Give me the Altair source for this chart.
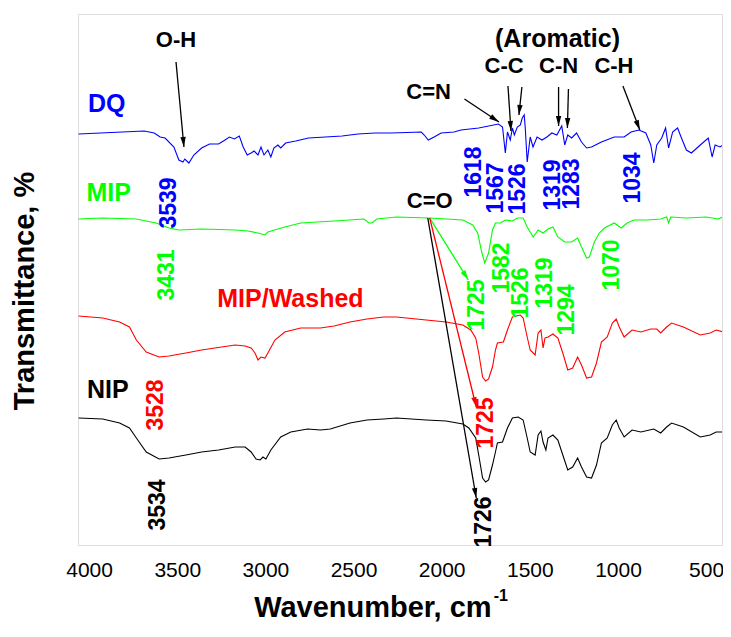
import math
import altair as alt
import pandas as pd

# ---- spectra: (wavenumber cm-1, relative transmittance, offset stacked) ----
dq = [(4060, 411), (3687, 414), (3631, 412), (3597, 408), (3569, 407), (3519, 398), (3491, 385),
      (3468, 383), (3457, 386), (3434, 382), (3406, 390), (3362, 397), (3317, 401), (3266, 401),
      (3238, 404), (3204, 408), (3176, 406), (3148, 409), (3126, 398), (3103, 390), (3081, 392),
      (3064, 394), (3042, 390), (3025, 398), (3008, 390), (2986, 395), (2969, 388), (2952, 397),
      (2929, 400), (2913, 397), (2885, 402), (2828, 404), (2755, 407), (2660, 408), (2565, 409),
      (2475, 411), (2379, 412), (2284, 412), (2116, 413), (2099, 410), (2076, 405), (2043, 408),
      (2003, 412), (1930, 413), (1891, 415), (1790, 417), (1678, 421), (1655, 418), (1639, 392),
      (1627, 413), (1611, 405), (1599, 417), (1588, 410), (1571, 418), (1554, 420), (1543, 427),
      (1532, 430), (1526, 417), (1515, 383), (1498, 408), (1482, 398), (1459, 408), (1431, 405),
      (1403, 408), (1375, 412), (1347, 410), (1319, 419), (1302, 400), (1285, 410), (1263, 407),
      (1235, 412), (1207, 403), (1178, 397), (1150, 398), (1094, 403), (1021, 408), (965, 408),
      (926, 413), (881, 415), (842, 412), (814, 400), (797, 382), (780, 400), (752, 407),
      (730, 417), (713, 397), (690, 413), (662, 417), (640, 407), (612, 395), (584, 392),
      (533, 400), (488, 407), (466, 388), (449, 400), (421, 398), (404, 400)]

mip = [(4060, 326), (3923, 327), (3732, 326), (3620, 322), (3547, 317), (3491, 315), (3362, 316),
       (3171, 315), (3098, 314), (3042, 312), (3002, 310), (2986, 313), (2890, 318), (2800, 322),
       (2610, 324), (2441, 326), (2413, 322), (2396, 322), (2368, 326), (2256, 328), (2071, 327),
       (1880, 325), (1824, 320), (1796, 312), (1773, 293), (1756, 282), (1734, 292), (1712, 315),
       (1695, 322), (1667, 322), (1639, 325), (1599, 324), (1571, 327), (1538, 327), (1515, 318),
       (1481, 308), (1453, 315), (1425, 312), (1397, 316), (1369, 318), (1341, 308), (1302, 303),
       (1263, 303), (1229, 307), (1207, 298), (1178, 287), (1162, 288), (1134, 303), (1106, 312),
       (1077, 317), (1021, 322), (982, 317), (948, 322), (909, 325), (836, 325), (758, 326),
       (724, 328), (713, 322), (701, 328), (612, 327), (499, 328), (432, 326), (404, 328)]

washed = [(4060, 229), (3923, 227), (3827, 223), (3771, 218), (3732, 205), (3676, 193), (3603, 188),
          (3547, 189), (3451, 192), (3362, 195), (3249, 198), (3171, 200), (3115, 199), (3081, 197),
          (3059, 192), (3042, 185), (3025, 188), (3002, 187), (2986, 192), (2946, 205), (2890, 213),
          (2800, 217), (2688, 217), (2610, 219), (2520, 223), (2424, 226), (2329, 228), (2256, 228),
          (2088, 225), (1975, 223), (1880, 220), (1835, 215), (1807, 207), (1790, 192), (1768, 168),
          (1751, 164), (1734, 166), (1712, 178), (1695, 195), (1684, 202), (1650, 203), (1627, 215),
          (1599, 228), (1554, 230), (1538, 227), (1515, 208), (1498, 195), (1470, 190), (1453, 212),
          (1437, 215), (1425, 197), (1414, 207), (1397, 208), (1369, 211), (1341, 207), (1313, 192),
          (1285, 175), (1257, 177), (1229, 188), (1207, 180), (1178, 167), (1150, 168), (1122, 182),
          (1094, 203), (1061, 208), (1032, 222), (1010, 226), (993, 218), (965, 208), (920, 215),
          (870, 213), (814, 216), (780, 216), (758, 212), (724, 218), (696, 222), (629, 218),
          (533, 210), (477, 212), (443, 215), (404, 213)]

nip = [(4060, 127), (3923, 126), (3827, 122), (3771, 117), (3732, 107), (3676, 93), (3603, 86),
       (3547, 87), (3451, 90), (3362, 93), (3266, 95), (3171, 98), (3115, 98), (3081, 93),
       (3053, 86), (3030, 85), (3014, 88), (2997, 86), (2969, 95), (2913, 108), (2856, 113),
       (2761, 116), (2688, 115), (2632, 116), (2520, 122), (2424, 125), (2329, 126), (2256, 127),
       (2088, 125), (1975, 124), (1880, 121), (1846, 117), (1807, 107), (1790, 90), (1768, 67),
       (1751, 63), (1734, 65), (1712, 80), (1695, 93), (1684, 102), (1655, 103), (1627, 117),
       (1599, 127), (1566, 128), (1538, 125), (1515, 107), (1498, 93), (1470, 90), (1453, 110),
       (1437, 114), (1425, 103), (1409, 95), (1397, 107), (1369, 110), (1341, 105), (1313, 90),
       (1285, 75), (1257, 78), (1229, 87), (1207, 78), (1178, 68), (1150, 67), (1122, 80),
       (1094, 102), (1061, 107), (1032, 120), (1010, 125), (993, 117), (965, 108), (920, 115),
       (870, 113), (797, 116), (758, 112), (724, 118), (696, 122), (629, 118), (533, 108),
       (477, 110), (443, 113), (404, 113)]

series_names = ["DQ", "MIP", "MIP/Washed", "NIP"]
series_colors = ["#0000ff", "#00ff00", "#ff0000", "#000000"]
series_data = [dq, mip, washed, nip]

tick_values = [4000, 3500, 3000, 2500, 2000, 1500, 1000, 500]

# series name labels (text, wavenumber, y, colour)
name_labels = [("DQ", 3900, 441, "#0000ff"), ("MIP", 3889, 352, "#00ff00"),
               ("MIP/Washed", 2858, 246, "#ff0000"), ("NIP", 3894, 155, "#000000")]

# group labels (black)
group_labels = [("O-H", 3507, 505), ("C-C", 1646, 479), ("C-N", 1337, 479), ("C-H", 1023, 479),
                ("C=N", 2074, 453), ("C=O", 2068, 344)]
aromatic_label = [("(Aromatic)", 1343, 506)]

# peak position labels (rotated)
peak_labels = [("3539", 3546, 342, "#0000ff"), ("1618", 1815, 373, "#0000ff"),
               ("1567", 1691, 357, "#0000ff"), ("1526", 1568, 356, "#0000ff"),
               ("1319", 1371, 360, "#0000ff"), ("1283", 1259, 361, "#0000ff"),
               ("1034", 916, 367, "#0000ff"),
               ("3431", 3557, 270, "#00ff00"), ("1725", 1801, 240, "#00ff00"),
               ("1582", 1658, 277, "#00ff00"), ("1526", 1551, 252, "#00ff00"),
               ("1319", 1416, 262, "#00ff00"), ("1294", 1292, 235, "#00ff00"),
               ("1070", 1034, 280, "#00ff00"),
               ("3528", 3619, 140, "#ff0000"), ("1725", 1748, 122, "#ff0000"),
               ("3534", 3608, 40, "#000000"), ("1726", 1759, 23, "#000000")]

# arrows: start (wn, y) -> tip (wn, y), colour
arrows = [(3507, 483, 3462, 398, "#000000"), (1871, 446, 1675, 423, "#000000"),
          (1624, 459, 1607, 414, "#000000"), (1545, 458, 1562, 430, "#000000"),
          (1337, 458, 1337, 419, "#000000"), (1281, 456, 1287, 417, "#000000"),
          (972, 459, 876, 415, "#000000"),
          (2068, 327, 1849, 265, "#00ff00"), (2068, 327, 1804, 138, "#ff0000"),
          (2079, 327, 1804, 47, "#000000")]

# ---- layout ----
W, H = 644, 531
XL, XR = 4063, 410
YB, YT = 0, 531
FONT = "Liberation Sans"

xscale = alt.Scale(domain=[XL, XR], nice=False, zero=False)
yscale = alt.Scale(domain=[YB, YT], nice=False, zero=False)


def X(field="x"):
    return alt.X(f"{field}:Q", scale=xscale, title=None,
                 axis=alt.Axis(values=tick_values, format="d", labelFont=FONT, labelFontSize=21,
                               labelColor="#000000", ticks=False, domain=False, grid=False,
                               labelPadding=14, labelFlush=False, labelOverlap=False))


def Y(field="y"):
    return alt.Y(f"{field}:Q", scale=yscale, axis=None, title=None)


rows = []
for name, color, data in zip(series_names, series_colors, series_data):
    for i, (w, t) in enumerate(data):
        rows.append({"series": name, "x": w, "y": t, "i": i})
spec_df = pd.DataFrame(rows)

lines = alt.Chart(spec_df).mark_line(strokeWidth=1.1, clip=True).encode(
    x=X(), y=Y(),
    color=alt.Color("series:N", scale=alt.Scale(domain=series_names, range=series_colors), legend=None),
    order="i:Q")

names_df = pd.DataFrame(name_labels, columns=["t", "x", "y", "c"])
names = alt.Chart(names_df).mark_text(font=FONT, fontWeight="bold", fontSize=25,
                                      align="center", baseline="middle").encode(
    x=X(), y=Y(), text="t:N", color=alt.Color("c:N", scale=None))

grp_df = pd.DataFrame(group_labels, columns=["t", "x", "y"])
groups = alt.Chart(grp_df).mark_text(font=FONT, fontWeight="bold", fontSize=22, color="#000000",
                                     align="center", baseline="middle").encode(
    x=X(), y=Y(), text="t:N")

aro_df = pd.DataFrame(aromatic_label, columns=["t", "x", "y"])
aro = alt.Chart(aro_df).mark_text(font=FONT, fontWeight="bold", fontSize=25, color="#000000",
                                  align="center", baseline="middle").encode(
    x=X(), y=Y(), text="t:N")

peaks_df = pd.DataFrame(peak_labels, columns=["t", "x", "y", "c"])
peaks = alt.Chart(peaks_df).mark_text(font=FONT, fontWeight="bold", fontSize=23, angle=270,
                                      align="center", baseline="middle").encode(
    x=X(), y=Y(), text="t:N", color=alt.Color("c:N", scale=None))


def px(w):
    return (XL - w) / (XL - XR) * W


def py(t):
    return H - (t - YB) / (YT - YB) * H


arr_rows = []
for x1, y1, x2, y2, c in arrows:
    dx = px(x2) - px(x1)
    dy = py(y2) - py(y1)
    ang = math.degrees(math.atan2(dx, -dy)) % 360
    arr_rows.append({"x": x1, "y": y1, "x2": x2, "y2": y2, "c": c, "ang": ang})
arr_df = pd.DataFrame(arr_rows)

arrow_lines = alt.Chart(arr_df).mark_rule(strokeWidth=1.3).encode(
    x=X(), y=Y(), x2="x2:Q", y2="y2:Q", color=alt.Color("c:N", scale=None))
arrow_heads = alt.Chart(arr_df).mark_point(shape="M0,0L-0.27,1L0.27,1Z", filled=True, size=400,
                                           opacity=1).encode(
    x=X("x2"), y=Y("y2"), angle=alt.Angle("ang:Q", scale=None), color=alt.Color("c:N", scale=None))

# axis titles drawn as text
xt_df = pd.DataFrame([{"t": "Wavenumber, cm", "x": 1717, "y": -72}])
xtitle = alt.Chart(xt_df).mark_text(font=FONT, fontWeight="bold", fontSize=29, color="#000000",
                                    align="right", baseline="alphabetic").encode(
    x=X(), y=Y(), text="t:N")
xs_df = pd.DataFrame([{"t": "-1", "x": 1705, "y": -56}])
xsup = alt.Chart(xs_df).mark_text(font=FONT, fontWeight="bold", fontSize=16, color="#000000",
                                  align="left", baseline="alphabetic").encode(
    x=X(), y=Y(), text="t:N")
yt_df = pd.DataFrame([{"t": "Transmittance, %", "x": 4361, "y": 254}])
ytitle = alt.Chart(yt_df).mark_text(font=FONT, fontWeight="bold", fontSize=29, color="#000000",
                                    angle=270, align="center", baseline="middle").encode(
    x=X(), y=Y(), text="t:N")

chart = alt.layer(lines, arrow_lines, arrow_heads, names, groups, aro, peaks, xtitle, xsup, ytitle).properties(
    width=W, height=H,
    autosize=alt.AutoSizeParams(type="none"),
    padding={"left": 70, "top": 6, "right": 1, "bottom": 79},
).configure_view(stroke="#555555", strokeWidth=1).configure(background="white")

chart.save("out.html", embed_options={"renderer": "svg", "actions": False})
